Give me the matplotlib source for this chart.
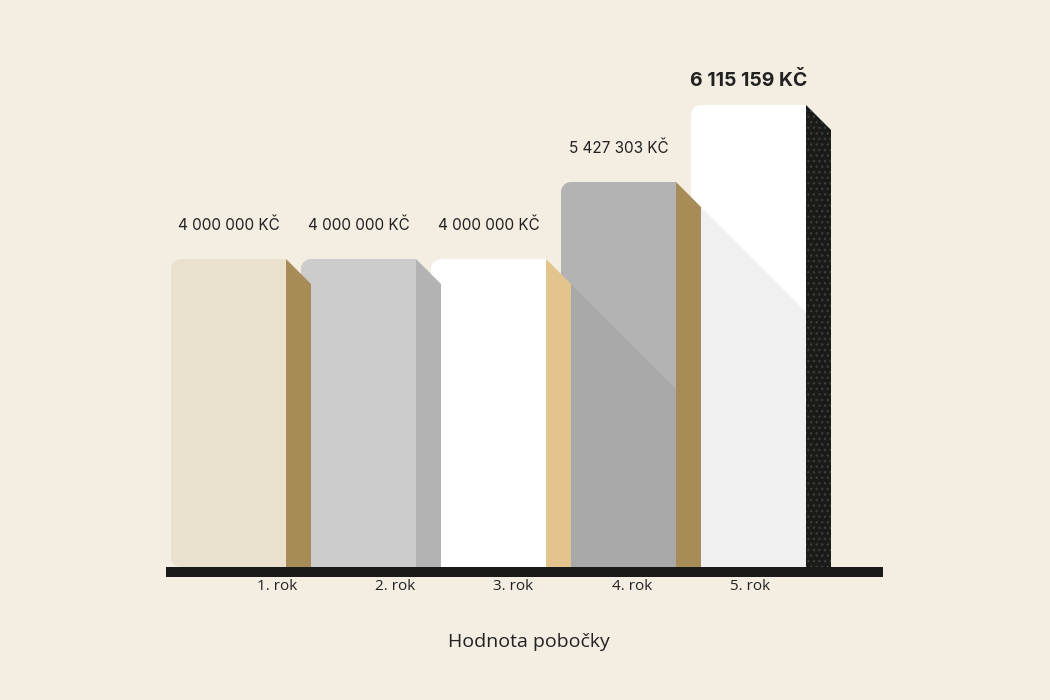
import numpy as np
import matplotlib
matplotlib.use("Agg")
import matplotlib.pyplot as plt
from matplotlib.patches import Polygon, Rectangle

# ---- data ----
categories = ["1. rok", "2. rok", "3. rok", "4. rok", "5. rok"]
value_labels = ["4 000 000 KČ", "4 000 000 KČ", "4 000 000 KČ", "5 427 303 KČ", "6 115 159 KČ"]
bar_heights_mil = [4.0, 4.0, 4.0, 5.0, 6.0]   # drawn heights (millions, as in the picture)
axis_title = "Hodnota pobočky"

# ---- styles ----
bg = "#F3EDE2"
front_colors = ["#EAE0CE", "#CCCCCC", "#FFFFFF", "#B3B3B3", "#FFFFFF"]
side_colors = ["#A88C57", "#B3B3B3", "#E3C48C", "#A88C57", "#1A1A18"]
shadow_colors = [None, None, None, "#A9A9A9", "#F0F0F0"]
text_color = "#222222"

W, H, DPI = 1050, 700, 100
PX_X = 130.0    # pixels per category unit
PX_Y = 77.0     # pixels per million
x0_px = 228.5   # pixel position of first category centre
y0_px = 567.0   # pixel position (from top) of baseline

fig = plt.figure(figsize=(W / DPI, H / DPI), dpi=DPI, facecolor=bg)
ax = fig.add_axes([0, 0, 1, 1])
ax.set_facecolor(bg)
ax.set_xlim(-x0_px / PX_X, (W - x0_px) / PX_X)
ax.set_ylim(-(H - y0_px) / PX_Y, y0_px / PX_Y)
ax.axis("off")

bw = 115 / PX_X          # front face width
dx = 25 / PX_X           # side depth in x
dy = 25 / PX_Y           # side depth in y
rx, ry = 10 / PX_X, 10 / PX_Y


def front_path(left, right, top, bottom):
    pts = []
    for t in np.linspace(np.pi, 1.5 * np.pi, 12):
        pts.append((left + rx + rx * np.cos(t), bottom + ry + ry * np.sin(t)))
    pts.append((right, bottom))
    pts.append((right, top))
    for t in np.linspace(0.5 * np.pi, np.pi, 12):
        pts.append((left + rx + rx * np.cos(t), top - ry + ry * np.sin(t)))
    return pts


n = len(categories)
for i in range(n):
    h = bar_heights_mil[i]
    left, right = i - bw / 2, i + bw / 2
    z = 10 - 2 * i
    ax.add_patch(Polygon(front_path(left, right, h, 0), closed=True,
                         facecolor=front_colors[i], edgecolor="none", zorder=z))
    if i > 0 and shadow_colors[i] and bar_heights_mil[i - 1] < h:
        ph = bar_heights_mil[i - 1]
        sx = (i - 1) + bw / 2 + dx
        sy = ph - dy
        run = right - sx
        ey = sy - run * (dy / dx)
        ax.add_patch(Polygon([(sx, sy), (right, ey), (right, 0), (sx, 0)], closed=True,
                             facecolor=shadow_colors[i], edgecolor="none", zorder=z + 0.3))
    ax.add_patch(Polygon([(right, h), (right + dx, h - dy), (right + dx, 0), (right, 0)],
                         closed=True, facecolor=side_colors[i], edgecolor="none", zorder=z + 0.5))
    if i == n - 1:
        ax.add_patch(Polygon([(right, h), (right + dx, h - dy), (right + dx, 0), (right, 0)],
                             closed=True, facecolor="none", edgecolor="#3c3c38",
                             hatch="...", linewidth=0, zorder=z + 0.6))
    last = i == n - 1
    ax.annotate(value_labels[i], (i, h), xytext=(0, 24 if last else 34),
                textcoords="offset pixels", ha="center", va="center",
                fontsize=14 if last else 11, fontweight="bold" if last else "normal",
                family=["Inter", "DejaVu Sans"], color=text_color, zorder=20)

# baseline
base_left = -bw / 2 - 5 / PX_X
base_right = (n - 1) + bw / 2 + dx + 52 / PX_X
ax.add_patch(Rectangle((base_left, -10 / PX_Y), base_right - base_left, 10 / PX_Y,
                       facecolor="#1A1A18", edgecolor="none", zorder=15))

# category labels
lab_step = 118.25 / PX_X
lab_start = (277 - x0_px) / PX_X
for i, c in enumerate(categories):
    ax.text(lab_start + i * lab_step, -20 / PX_Y, c, ha="center", va="center",
            fontsize=11, family=["Open Sans", "DejaVu Sans"], color=text_color)

ax.text((529 - x0_px) / PX_X, -(642 - y0_px) / PX_Y, axis_title, ha="center", va="center",
        fontsize=14, family=["Open Sans", "DejaVu Sans"], color=text_color)

fig.savefig("out.png", dpi=DPI, facecolor=bg)
